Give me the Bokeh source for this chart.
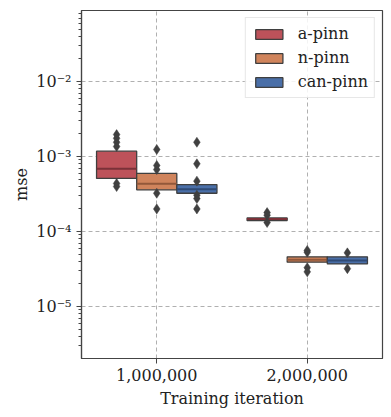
from bokeh.plotting import figure
from bokeh.models import (ColumnDataSource, FactorRange, Range1d, FixedTicker,
                          CustomJSTickFormatter, Legend, LegendItem)
from bokeh.transform import dodge
from bokeh.embed import file_html
from bokeh.resources import INLINE

# ---------------- data ----------------
categories = ["1,000,000", "2,000,000"]
hues = ["a-pinn", "n-pinn", "can-pinn"]

# box statistics (lower quartile, median, upper quartile) per category
a_q1 = [5.1e-4, 1.40e-4]
a_med = [6.85e-4, 1.47e-4]
a_q3 = [1.18e-3, 1.52e-4]

n_q1 = [3.6e-4, 3.9e-5]
n_med = [4.33e-4, 4.2e-5]
n_q3 = [5.95e-4, 4.6e-5]

can_q1 = [3.24e-4, 3.7e-5]
can_med = [3.67e-4, 4.1e-5]
can_q3 = [4.23e-4, 4.6e-5]

# outlier points per category
a_out_1m = [1.96e-3, 1.75e-3, 1.55e-3, 1.36e-3, 4.37e-4, 3.98e-4]
a_out_2m = [1.79e-4, 1.65e-4, 1.32e-4]
n_out_1m = [1.24e-3, 7.6e-4, 6.7e-4, 3.24e-4, 2.0e-4]
n_out_2m = [5.6e-5, 5.3e-5, 3.3e-5, 2.9e-5]
can_out_1m = [1.55e-3, 8.0e-4, 4.7e-4, 3.05e-4, 2.75e-4, 2.0e-4]
can_out_2m = [5.2e-5, 3.2e-5]

# ---------------- style ----------------
FONT = "DejaVu Serif"
EDGE = "#3f3f3f"
fills = {"a-pinn": "#BD525A", "n-pinn": "#D0845C", "can-pinn": "#4A6FA8"}
meds = {"a-pinn": "#7A3138", "n-pinn": "#93583A", "can-pinn": "#2F4A75"}
BW = 0.8 / 3
offsets = {"a-pinn": -BW, "n-pinn": 0.0, "can-pinn": BW}

p = figure(x_range=FactorRange(factors=categories, range_padding=0),
           y_axis_type="log", y_range=Range1d(2.03e-6, 8.85e-2),
           width=384, height=413, output_backend="svg", toolbar_location=None,
           min_border_left=81, min_border_right=2, min_border_top=10,
           min_border_bottom=55)
p.background_fill_color = "white"
p.border_fill_color = "white"
p.outline_line_color = "#444444"
p.outline_line_width = 1.2
p.outline_line_alpha = 1.0

stats = {
    "a-pinn": (a_q1, a_med, a_q3, a_out_1m, a_out_2m),
    "n-pinn": (n_q1, n_med, n_q3, n_out_1m, n_out_2m),
    "can-pinn": (can_q1, can_med, can_q3, can_out_1m, can_out_2m),
}

items = []
for h in hues:
    q1, med, q3, o1, o2 = stats[h]
    off = offsets[h]
    src = ColumnDataSource(dict(cat=categories, q1=q1, med=med, q3=q3))
    r = p.vbar(x=dodge("cat", off, range=p.x_range), width=BW, bottom="q1", top="q3",
               source=src, fill_color=fills[h], line_color=EDGE, line_width=1.3)
    p.segment(x0=dodge("cat", off - BW / 2, range=p.x_range),
              x1=dodge("cat", off + BW / 2, range=p.x_range),
              y0="med", y1="med", source=src, line_color=meds[h], line_width=2)
    osrc = ColumnDataSource(dict(cat=[categories[0]] * len(o1) + [categories[1]] * len(o2),
                                 val=o1 + o2))
    p.scatter(x=dodge("cat", off, range=p.x_range), y="val", source=osrc, marker="diamond",
              size=10, fill_color="#404040", line_color="#404040", line_width=0.5)
    items.append(LegendItem(label=h, renderers=[r]))

legend = Legend(items=items, location="top_right", margin=7, padding=6, spacing=5,
                glyph_width=34, glyph_height=12, label_height=19, label_standoff=12,
                label_text_font=FONT, label_text_font_size="16px",
                label_text_color="#222222",
                border_line_color="#d0d0d0", border_line_width=1,
                background_fill_alpha=0.85)
p.add_layout(legend)

# axes
major = [1e-5, 1e-4, 1e-3, 1e-2]
minor = [k * 10.0 ** e for e in range(-6, -1) for k in range(2, 10)]
p.yaxis.ticker = FixedTicker(ticks=major, minor_ticks=minor)
p.ygrid.ticker = FixedTicker(ticks=major)
p.yaxis.formatter = CustomJSTickFormatter(code=r"""
const e = Math.round(Math.log10(tick));
const sup = {"-": "\u207B", "0": "\u2070", "1": "\u00B9", "2": "\u00B2", "3": "\u00B3",
             "4": "\u2074", "5": "\u2075", "6": "\u2076", "7": "\u2077", "8": "\u2078", "9": "\u2079"};
return "10" + String(e).split("").map(c => sup[c]).join("");
""")

for ax in (p.xaxis, p.yaxis):
    ax.axis_line_color = "#444444"
    ax.axis_line_width = 1.2
    ax.major_tick_line_color = "#444444"
    ax.minor_tick_line_color = "#444444"
    ax.major_tick_in = 0
    ax.major_tick_out = 5
    ax.minor_tick_in = 0
    ax.minor_tick_out = 3
    ax.major_label_text_font = FONT
    ax.major_label_text_font_size = "16px"
    ax.major_label_text_color = "#222222"
    ax.axis_label_text_font = FONT
    ax.axis_label_text_font_size = "16px"
    ax.axis_label_text_font_style = "normal"
    ax.axis_label_text_color = "#222222"
    ax.major_label_standoff = 5
    ax.axis_label_standoff = 5

p.yaxis.axis_label_standoff = 2
p.xaxis.axis_label = "Training iteration"
p.yaxis.axis_label = "mse"
p.xaxis.group_text_font_size = "0px"

for g in (p.xgrid, p.ygrid):
    g.grid_line_color = "#b0b0b0"
    g.grid_line_dash = "4 3"
    g.grid_line_width = 1

open("out.html", "w").write(file_html(p, INLINE))
